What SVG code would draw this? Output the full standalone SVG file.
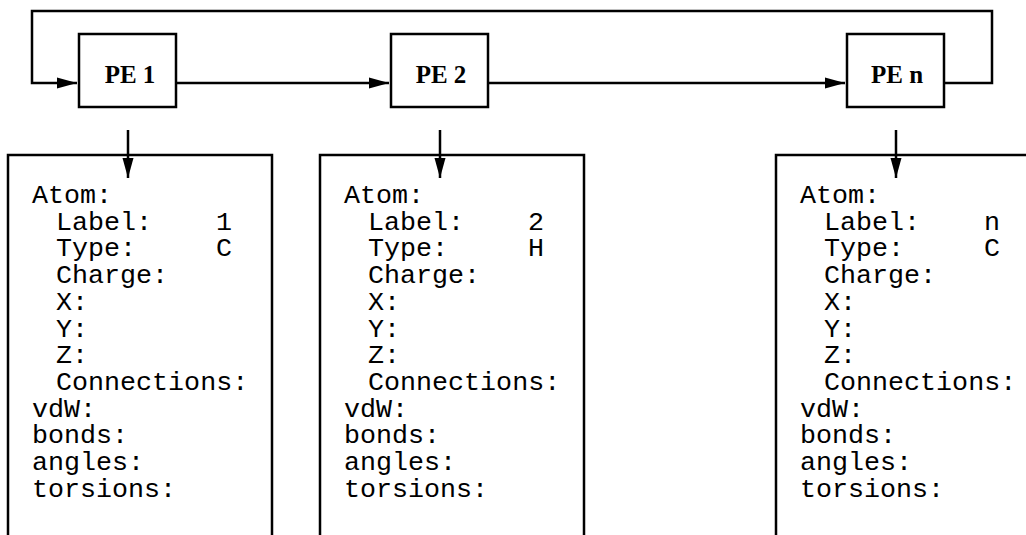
<svg xmlns="http://www.w3.org/2000/svg" width="1026" height="535" viewBox="0 0 1026 535">
<style>
.box{fill:#fff;stroke:#000;stroke-width:2.5}
.ln{fill:none;stroke:#000;stroke-width:2.5}
.pe{font-family:"Liberation Serif",serif;font-weight:bold;font-size:25px;text-anchor:middle;fill:#000}
.mono{font-family:"Liberation Mono","Courier New",monospace;font-size:26.7px;fill:#000}
</style>
<defs>
<marker id="ah" markerUnits="userSpaceOnUse" markerWidth="22" markerHeight="12" refX="20" refY="6" orient="auto">
<path d="M0,0.5 L20,6 L0,11.5 Z" fill="#000"/>
</marker>
</defs>
<rect width="1026" height="535" fill="#fff"/>
<g id="connectors">
<path class="ln" d="M176,83 H389" marker-end="url(#ah)"/>
<path class="ln" d="M488,83 H845" marker-end="url(#ah)"/>
<path class="ln" d="M944,83 H992 V11 H32 V83 H77" marker-end="url(#ah)"/>
<path class="ln" d="M128,130 V178" marker-end="url(#ah)"/>
<path class="ln" d="M440,130 V178" marker-end="url(#ah)"/>
<path class="ln" d="M896,130 V178" marker-end="url(#ah)"/>
</g>
<g id="pe1"><rect class="box" x="79" y="34" width="97" height="73"/><text class="pe" x="130" y="83">PE 1</text></g>
<g id="pe2"><rect class="box" x="391" y="34" width="97" height="73"/><text class="pe" x="441" y="83">PE 2</text></g>
<g id="pen"><rect class="box" x="847" y="34" width="97" height="73"/><text class="pe" x="897" y="83">PE n</text></g>
<g id="mem1">
<path class="ln" d="M8,545 V155 H272 V545"/>
<text class="mono"><tspan x="32" y="203">Atom:</tspan><tspan x="56" y="229.7">Label:</tspan><tspan x="56" y="256.4">Type:</tspan><tspan x="56" y="283.1">Charge:</tspan><tspan x="56" y="309.8">X:</tspan><tspan x="56" y="336.5">Y:</tspan><tspan x="56" y="363.2">Z:</tspan><tspan x="56" y="389.9">Connections:</tspan><tspan x="32" y="416.6">vdW:</tspan><tspan x="32" y="443.3">bonds:</tspan><tspan x="32" y="470">angles:</tspan><tspan x="32" y="496.7">torsions:</tspan></text>
<text class="mono" x="216" y="229.7">1</text><text class="mono" x="216" y="256.4">C</text>
</g>
<g id="mem2">
<path class="ln" d="M320,545 V155 H584 V545"/>
<text class="mono"><tspan x="344" y="203">Atom:</tspan><tspan x="368" y="229.7">Label:</tspan><tspan x="368" y="256.4">Type:</tspan><tspan x="368" y="283.1">Charge:</tspan><tspan x="368" y="309.8">X:</tspan><tspan x="368" y="336.5">Y:</tspan><tspan x="368" y="363.2">Z:</tspan><tspan x="368" y="389.9">Connections:</tspan><tspan x="344" y="416.6">vdW:</tspan><tspan x="344" y="443.3">bonds:</tspan><tspan x="344" y="470">angles:</tspan><tspan x="344" y="496.7">torsions:</tspan></text>
<text class="mono" x="528" y="229.7">2</text><text class="mono" x="528" y="256.4">H</text>
</g>
<g id="memn">
<path class="ln" d="M776,545 V155 H1040"/>
<text class="mono"><tspan x="800" y="203">Atom:</tspan><tspan x="824" y="229.7">Label:</tspan><tspan x="824" y="256.4">Type:</tspan><tspan x="824" y="283.1">Charge:</tspan><tspan x="824" y="309.8">X:</tspan><tspan x="824" y="336.5">Y:</tspan><tspan x="824" y="363.2">Z:</tspan><tspan x="824" y="389.9">Connections:</tspan><tspan x="800" y="416.6">vdW:</tspan><tspan x="800" y="443.3">bonds:</tspan><tspan x="800" y="470">angles:</tspan><tspan x="800" y="496.7">torsions:</tspan></text>
<text class="mono" x="984" y="229.7">n</text><text class="mono" x="984" y="256.4">C</text>
</g>
</svg>
